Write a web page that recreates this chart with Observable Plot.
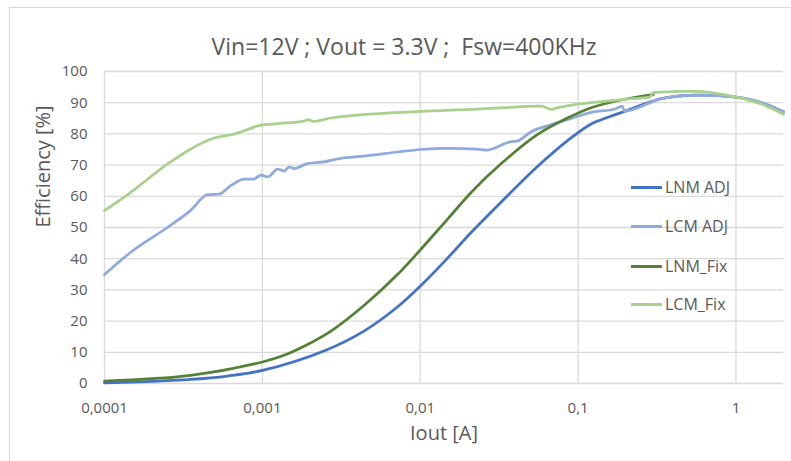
<!DOCTYPE html>
<html>
<head>
<meta charset="utf-8">
<script src="https://cdn.jsdelivr.net/npm/d3@7"></script>
<script src="https://cdn.jsdelivr.net/npm/@observablehq/plot@0.6"></script>
<style>
  body { margin: 0; background: #fff; }
  #wrap { position: relative; width: 791px; height: 461px; overflow: hidden; background: #fff; font-family: 'Open Sans', sans-serif; }
  #frame { position: absolute; left: 9px; top: 7px; width: 790px; height: 470px; border: 1px solid #d9d9d9; box-sizing: border-box; }
  #chart { position: absolute; left: 0; top: 0; }
  #chart svg text { white-space: pre; }
  .leg { position: absolute; height: 20px; display: flex; align-items: center; color: #595959; font-size: 16px; }
  .leg .sw { width: 31px; height: 3px; margin-right: 3px; }
</style>
</head>
<body>
<div id="wrap">
  <div id="frame"></div>
  <div id="chart"></div>
</div>
<script>
// ---- data ----
const titleText = "Vin=12V ; Vout = 3.3V ;  Fsw=400KHz";
const xLabel = "Iout [A]";
const yLabel = "Efficiency [%]";
const xTicks = [0.0001, 0.001, 0.01, 0.1, 1];
const yTicks = [0, 10, 20, 30, 40, 50, 60, 70, 80, 90, 100];

const seriesNames = ["LNM ADJ", "LCM ADJ", "LNM_Fix", "LCM_Fix"];
const seriesColors = ["#4472C4", "#8FAADC", "#548235", "#A9D18E"];
const seriesCurves = ["catmull-rom", "monotone-x", "catmull-rom", "monotone-x"];

const iLnmAdj   = [0.0001, 0.0002, 0.00035, 0.0006, 0.001, 0.0025, 0.0044, 0.0072, 0.01, 0.0149, 0.021, 0.028, 0.0557, 0.0906, 0.121, 0.156, 0.197, 0.337, 0.549, 1, 1.46, 2];
const effLnmAdj = [0.2, 0.7, 1.3, 2.4, 4.2, 10.6, 16.8, 24.6, 31.2, 40.2, 48.4, 54.8, 69.7, 78.8, 83.2, 85.4, 87.2, 91.3, 92.4, 91.8, 90.0, 87.1];

const iLcmAdj   = [0.0001, 0.000146, 0.00025, 0.00035, 0.00045, 0.00053, 0.00063, 0.00077, 0.00088, 0.00098, 0.00108, 0.00125, 0.00137, 0.00148, 0.00159, 0.00193, 0.00245, 0.00307, 0.0044, 0.0072, 0.01, 0.0149, 0.023, 0.0263, 0.0377, 0.041, 0.0505, 0.0745, 0.105, 0.121, 0.17, 0.19, 0.197, 0.337, 0.549, 1, 1.46, 2];
const effLcmAdj = [34.9, 42.0, 50.0, 55.4, 60.5, 60.7, 63.4, 65.5, 65.5, 66.8, 66.2, 68.7, 68.1, 69.4, 68.9, 70.5, 71.0, 72.1, 72.9, 74.2, 75.0, 75.4, 75.1, 74.8, 77.5, 77.7, 80.7, 83.6, 86.0, 86.9, 87.9, 88.9, 87.3, 91.3, 92.4, 91.8, 90.0, 87.1];

const iLnmFix   = [0.0001, 0.00035, 0.001, 0.0014, 0.00185, 0.00272, 0.0044, 0.0072, 0.01, 0.0149, 0.021, 0.028, 0.0557, 0.0906, 0.121, 0.197, 0.299];
const effLnmFix = [0.8, 2.6, 6.9, 9.2, 12.0, 16.8, 25.0, 35.0, 42.8, 52.7, 61.2, 67.5, 79.9, 85.7, 88.4, 91.1, 92.6];

const iLcmFix   = [0.0001, 0.000146, 0.00025, 0.00035, 0.00049, 0.00066, 0.00098, 0.00125, 0.00184, 0.00195, 0.0021, 0.00272, 0.01, 0.021, 0.034, 0.0557, 0.0585, 0.0676, 0.0745, 0.105, 0.121, 0.197, 0.284, 0.299, 0.337, 0.45, 0.55, 1, 1.46, 2];
const effLcmFix = [55.4, 61.2, 70.3, 75.1, 78.6, 79.9, 82.8, 83.3, 84.1, 84.6, 84.0, 85.1, 87.2, 87.9, 88.4, 88.9, 88.9, 87.9, 88.4, 89.7, 90.0, 91.1, 91.8, 93.2, 93.4, 93.6, 93.6, 91.8, 89.5, 86.3];

// ---- build ----
const seriesX = [iLnmAdj, iLcmAdj, iLnmFix, iLcmFix];
const seriesY = [effLnmAdj, effLcmAdj, effLnmFix, effLcmFix];
const lineMarks = seriesNames.map((name, k) => {
  const rows = seriesX[k].map((x, i) => ({x, y: seriesY[k][i]}));
  return Plot.line(rows, {x: "x", y: "y", stroke: seriesColors[k], strokeWidth: 2.75, curve: seriesCurves[k]});
});

const fmt = d => String(d).replace(".", ",");

const chart = Plot.plot({
  width: 791,
  height: 461,
  marginLeft: 104,
  marginRight: 8,
  marginTop: 71,
  marginBottom: 78,
  style: {fontFamily: "'Open Sans', sans-serif", fontSize: "15px", color: "#595959", background: "transparent"},
  x: {type: "log", domain: [0.0001, 2]},
  y: {domain: [0, 100]},
  marks: [
    Plot.gridY(yTicks, {stroke: "#d9d9d9", strokeOpacity: 1, strokeWidth: 1.3}),
    Plot.gridX(xTicks, {stroke: "#d9d9d9", strokeOpacity: 1, strokeWidth: 1.3}),
    Plot.axisX(xTicks, {tickSize: 0, tickPadding: 19, tickFormat: fmt, label: null, fontSize: 15}),
    Plot.axisY(yTicks, {tickSize: 0, tickPadding: 17, label: null, fontSize: 15}),
    ...lineMarks,
    Plot.text([titleText], {text: d => d, frameAnchor: "top", dx: -40, dy: -33, fontSize: 23, fill: "#595959"}),
    Plot.text([xLabel], {text: d => d, frameAnchor: "bottom", dy: 56, fontSize: 20, fill: "#595959"}),
    Plot.text([yLabel], {text: d => d, frameAnchor: "left", dx: -61, rotate: -90, fontSize: 20, fill: "#595959"})
  ]
});
document.getElementById("chart").appendChild(chart);

// legend
const wrap = document.getElementById("wrap");
const legTop = [177, 216, 256, 294];
seriesNames.forEach((name, k) => {
  const d = document.createElement("div");
  d.className = "leg";
  d.style.left = "631px";
  d.style.top = legTop[k] + "px";
  d.innerHTML = `<span class="sw" style="background:${seriesColors[k]}"></span><span>${name}</span>`;
  wrap.appendChild(d);
});
</script>
</body>
</html>
